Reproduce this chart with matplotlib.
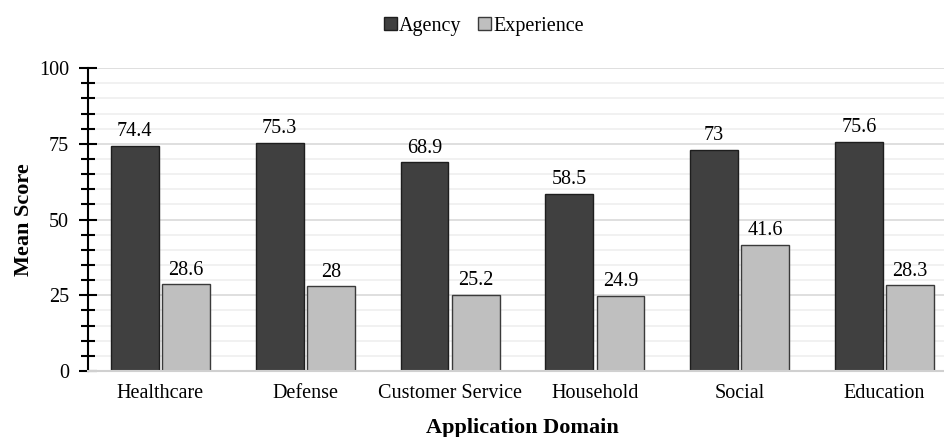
import numpy as np
import matplotlib.pyplot as plt
from matplotlib.ticker import MultipleLocator

plt.rcParams['font.family'] = ['Liberation Serif', 'DejaVu Serif']

domains = ["Healthcare", "Defense", "Customer Service", "Household", "Social", "Education"]
agency = [74.4, 75.3, 68.9, 58.5, 73, 75.6]
experience = [28.6, 28, 25.2, 24.9, 41.6, 28.3]

x = np.arange(len(domains))
w = 0.33
off = 0.177

fig = plt.figure(figsize=(9.45, 4.37), dpi=100)
# axes runs a bit past the right edge, like the reference
ax = fig.add_axes([88 / 945, 0.151, 869 / 945, 0.693])

ax.yaxis.set_major_locator(MultipleLocator(25))
ax.yaxis.set_minor_locator(MultipleLocator(5))
ax.grid(axis='y', which='minor', color='#efefef', lw=1.2)
ax.grid(axis='y', which='major', color='#d9d9d9', lw=1.2)
ax.set_axisbelow(True)

b1 = ax.bar(x - off, agency, w, color='#404040', edgecolor='#1e1e1e', lw=1, label='Agency')
b2 = ax.bar(x + off, experience, w, color='#bfbfbf', edgecolor='#3a3a3a', lw=1, label='Experience')

for bars, vals in ((b1, agency), (b2, experience)):
    for r, v in zip(bars, vals):
        ax.text(r.get_x() + r.get_width() / 2, v + 3.2, f"{v:g}",
                ha='center', va='baseline', fontsize=14.5)

ax.set_xlim(-0.5, 5.5)
ax.set_ylim(0, 100)
ax.set_xticks(x)
ax.set_xticklabels(domains, fontsize=14.5)
ax.tick_params(axis='x', length=0, pad=9)
ax.tick_params(axis='y', which='major', direction='inout', length=13, width=1.5,
               labelsize=14.5, pad=7)
ax.tick_params(axis='y', which='minor', direction='inout', length=10, width=1.5)

for s in ('top', 'right'):
    ax.spines[s].set_visible(False)
ax.spines['left'].set_linewidth(1.5)
ax.spines['bottom'].set_color('#d0d0d0')
ax.spines['bottom'].set_linewidth(1.5)

fig.text(24 / 945, 0.498, "Mean Score", rotation=90, ha='center', va='center',
         fontsize=16, fontweight='bold')
fig.text(522 / 945, 0.01, "Application Domain", ha='center', va='baseline',
         fontsize=16, fontweight='bold')

fig.legend(handles=[b1, b2], loc='center', bbox_to_anchor=(0.512, 0.94), ncol=2,
           frameon=False, fontsize=14.5, handlelength=0.65, handleheight=0.65,
           handletextpad=0.1, columnspacing=0.85)

plt.savefig("out.png", dpi=100)
